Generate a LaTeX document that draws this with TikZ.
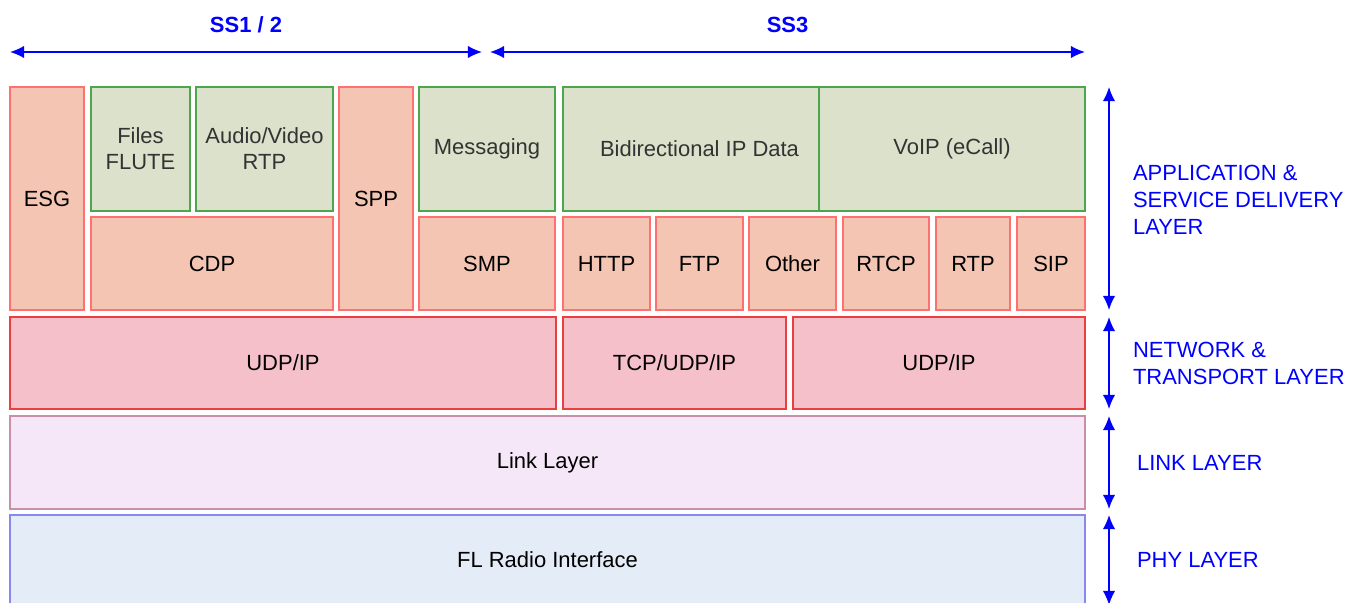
\documentclass[tikz,border=0pt]{standalone}
\usepackage{fontspec}
\setmainfont{Liberation Sans}
\usetikzlibrary{arrows.meta}

\definecolor{salmfill}{HTML}{F5C5B3}
\definecolor{salmline}{HTML}{FF7070}
\definecolor{appfill}{HTML}{DCE1CB}
\definecolor{appline}{HTML}{4CA64C}
\definecolor{netfill}{HTML}{F6C0CB}
\definecolor{netline}{HTML}{E84040}
\definecolor{linkfill}{HTML}{F5E7F8}
\definecolor{linkline}{HTML}{C890A8}
\definecolor{phyfill}{HTML}{E4ECF7}
\definecolor{phyline}{HTML}{8888EE}
\definecolor{apptext}{HTML}{333333}
\definecolor{lblue}{HTML}{0000FF}

\tikzset{
  wh/.style 2 args={minimum width=#1*0.02cm, minimum height=#2*0.02cm},
  blk/.style={rectangle, inner sep=0pt, line width=0.6pt, align=center,
    font=\fontsize{12.5}{14.8}\selectfont},
  salm/.style={blk, fill=salmfill, draw=salmline},
  appl/.style={blk, fill=appfill, draw=appline, text=apptext},
  netw/.style={blk, fill=netfill, draw=netline},
  lnk/.style={blk, fill=linkfill, draw=linkline},
  phy/.style={blk, fill=phyfill, draw=phyline},
  span/.style={draw=lblue, line width=0.8pt, {Latex[length=8pt,width=7pt]}-{Latex[length=8pt,width=7pt]}},
  lbl/.style={text=lblue, align=left, anchor=west, font=\fontsize{12.5}{15.3}\selectfont},
  sslbl/.style={text=lblue, font=\fontsize{12.5}{15}\selectfont\bfseries}
}

\begin{document}
\begin{tikzpicture}[x=0.02cm, y=-0.02cm]
	\useasboundingbox (0,0) rectangle (1362,602);
	% application and service delivery
	\node[salm, wh={74}{223}] (esg) at (47,198.5) {ESG};
	\node[appl, wh={99}{124}] (files) at (140.5,149) {Files\\FLUTE};
	\node[appl, wh={137}{124}] (av) at (264.5,149) {Audio/Video\\RTP};
	\node[salm, wh={242}{93}] (cdp) at (212,263.5) {CDP};
	\node[salm, wh={74}{223}] (spp) at (376,198.5) {SPP};
	\node[appl, wh={136}{124}] (msg) at (487,149) {Messaging};
	\node[salm, wh={136}{93}] (smp) at (487,263.5) {SMP};
	\node[appl, wh={273}{124}] (bidi) at (699.5,149) {Bidirectional IP Data};
	\node[appl, wh={266}{124}] (voip) at (952,149) {VoIP (eCall)};
	\node[salm, wh={87}{93}] (http) at (606.5,263.5) {HTTP};
	\node[salm, wh={87}{93}] (ftp) at (699.5,263.5) {FTP};
	\node[salm, wh={87}{93}] (other) at (792.5,263.5) {Other};
	\node[salm, wh={86}{93}] (rtcp) at (886,263.5) {RTCP};
	\node[salm, wh={74}{93}] (rtp) at (973,263.5) {RTP};
	\node[salm, wh={68}{93}] (sip) at (1051,263.5) {SIP};
	% network and transport
	\node[netw, wh={546}{92}] (udpa) at (283,363) {UDP/IP};
	\node[netw, wh={223}{92}] (tcp) at (674.5,363) {TCP/UDP/IP};
	\node[netw, wh={292}{92}] (udpb) at (939,363) {UDP/IP};
	% link and phy
	\node[lnk, wh={1075}{93}] (link) at (547.5,462.5) {Link Layer};
	\node[phy, wh={1075}{90}] (radio) at (547.5,560) {FL Radio Interface};

	% spans
	\coordinate (ssa) at (10,52);
	\coordinate (ssb) at (482,52);
	\coordinate (ssc) at (490,52);
	\coordinate (ssd) at (1085,52);
	\draw[span] (ssa) to node[sslbl, midway, yshift=0.54cm]{SS1 / 2} (ssb);
	\draw[span] (ssc) to node[sslbl, midway, yshift=0.54cm]{SS3} (ssd);

	\coordinate (appT) at (1109,87);
	\coordinate (appB) at (1109,310);
	\coordinate (netT) at (1109,317);
	\coordinate (netB) at (1109,409);
	\coordinate (lnkT) at (1109,416);
	\coordinate (lnkB) at (1109,509);
	\coordinate (phyT) at (1109,515);
	\coordinate (phyB) at (1109,605);
	\draw[span] (appT) to node[lbl, midway, xshift=0.35cm, yshift=-0.03cm]{APPLICATION \&\\SERVICE DELIVERY\\LAYER} (appB);
	\draw[span] (netT) to node[lbl, midway, xshift=0.35cm]{NETWORK \&\\TRANSPORT LAYER} (netB);
	\draw[span] (lnkT) to node[lbl, midway, xshift=0.43cm]{LINK LAYER} (lnkB);
	\draw[span] (phyT) to node[lbl, midway, xshift=0.43cm]{PHY LAYER} (phyB);
\end{tikzpicture}
\end{document}
